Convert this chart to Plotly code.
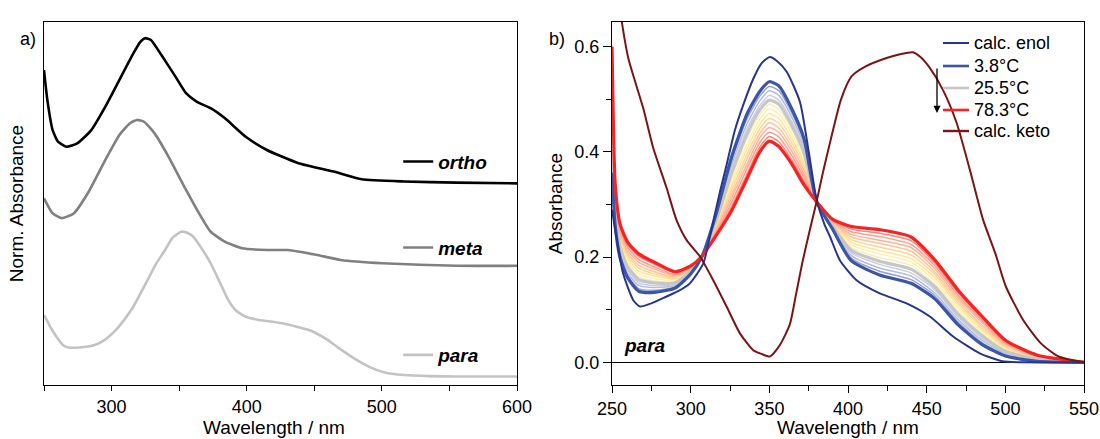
import plotly.graph_objects as go

FONT = "Liberation Sans, Arial, sans-serif"
W, H = 1100, 439

# ---------------- panel a: normalised spectra of the isomers ----------------
ortho_nm = [250, 252.5, 256.4, 260.3, 266.8, 274.6, 285, 295.4, 305.8, 316.2, 321.3, 324.7,
            329.1, 336.9, 347.3, 355.1, 362.9, 373.3, 383.7, 399.3, 414.9, 438.3, 464.3,
            485.1, 516.3, 555.3, 600]
ortho_abs = [0.868, 0.786, 0.704, 0.673, 0.659, 0.668, 0.704, 0.768, 0.841, 0.914, 0.945, 0.955,
             0.950, 0.909, 0.850, 0.805, 0.782, 0.764, 0.737, 0.686, 0.650, 0.614, 0.591,
             0.570, 0.564, 0.561, 0.559]

meta_nm = [250, 256.4, 263, 272, 282.4, 295.4, 305.8, 313.6, 318.8, 324, 331.7, 342.1, 355.1,
           366.8, 373.3, 383.7, 396.7, 414.9, 430.4, 451.3, 469.5, 500.6, 555.3, 600]
meta_abs = [0.518, 0.477, 0.464, 0.477, 0.532, 0.623, 0.691, 0.723, 0.732, 0.727, 0.696, 0.632,
            0.541, 0.464, 0.427, 0.400, 0.382, 0.377, 0.377, 0.364, 0.350, 0.341, 0.334, 0.334]

para_nm = [250, 255, 259.1, 264, 268.1, 278, 287.6, 295, 303.2, 310, 316.2, 326.6, 333, 339.6,
           345, 351.4, 356, 360.3, 366, 373.3, 380, 386.3, 392, 399.3, 408, 417.5, 428, 437,
           445, 451.3, 459, 466.9, 478, 490.3, 502, 516.3, 535, 555.3, 600]
para_abs = [0.200, 0.165, 0.141, 0.118, 0.111, 0.112, 0.118, 0.132, 0.159, 0.190, 0.223, 0.295,
            0.340, 0.377, 0.410, 0.427, 0.424, 0.414, 0.385, 0.341, 0.290, 0.241, 0.212, 0.195,
            0.187, 0.182, 0.176, 0.168, 0.160, 0.150, 0.134, 0.113, 0.085, 0.059, 0.043, 0.036,
            0.033, 0.032, 0.032]

# ---------------- panel b: para isomer, temperature series ----------------
temp_nm = [250, 252, 255, 260, 267, 277, 290, 300, 307, 316, 326, 336, 344, 350,
           356, 364, 372, 380, 390, 402, 420, 440, 455, 470, 485, 500, 520, 550]

# one row per measured temperature, coldest first
temp_abs = [
    [0.360, 0.260, 0.200, 0.160, 0.135, 0.133, 0.141, 0.168, 0.200, 0.280, 0.390, 0.473, 0.515, 0.533,
     0.525, 0.483, 0.425, 0.305, 0.254, 0.193, 0.166, 0.150, 0.121, 0.071, 0.034, 0.012, 0.002, 0.0],
    [0.378, 0.266, 0.205, 0.165, 0.140, 0.137, 0.143, 0.169, 0.200, 0.277, 0.382, 0.464, 0.506, 0.524,
     0.516, 0.475, 0.418, 0.305, 0.255, 0.198, 0.173, 0.157, 0.127, 0.076, 0.038, 0.014, 0.003, 0.0],
    [0.397, 0.272, 0.210, 0.170, 0.146, 0.142, 0.146, 0.170, 0.200, 0.274, 0.374, 0.454, 0.497, 0.516,
     0.507, 0.467, 0.411, 0.305, 0.257, 0.203, 0.179, 0.164, 0.132, 0.081, 0.042, 0.017, 0.004, 0.0],
    [0.415, 0.278, 0.215, 0.176, 0.151, 0.146, 0.148, 0.171, 0.200, 0.271, 0.366, 0.445, 0.488, 0.507,
     0.498, 0.459, 0.405, 0.305, 0.258, 0.208, 0.186, 0.170, 0.138, 0.086, 0.046, 0.019, 0.005, 0.0],
    [0.434, 0.285, 0.220, 0.181, 0.157, 0.151, 0.151, 0.173, 0.200, 0.268, 0.359, 0.435, 0.480, 0.498,
     0.490, 0.451, 0.398, 0.305, 0.260, 0.213, 0.192, 0.177, 0.144, 0.091, 0.051, 0.021, 0.006, 0.0],
    [0.452, 0.291, 0.225, 0.186, 0.162, 0.155, 0.153, 0.174, 0.200, 0.265, 0.351, 0.426, 0.471, 0.490,
     0.481, 0.443, 0.391, 0.305, 0.261, 0.218, 0.199, 0.184, 0.149, 0.096, 0.055, 0.024, 0.007, 0.0],
    [0.471, 0.297, 0.230, 0.191, 0.168, 0.159, 0.155, 0.175, 0.200, 0.262, 0.343, 0.416, 0.462, 0.481,
     0.472, 0.435, 0.384, 0.305, 0.262, 0.223, 0.206, 0.191, 0.155, 0.101, 0.059, 0.026, 0.008, 0.0],
    [0.489, 0.303, 0.234, 0.197, 0.173, 0.164, 0.158, 0.176, 0.201, 0.258, 0.335, 0.407, 0.453, 0.472,
     0.463, 0.426, 0.378, 0.305, 0.264, 0.228, 0.212, 0.197, 0.161, 0.107, 0.063, 0.028, 0.008, 0.0],
    [0.508, 0.309, 0.239, 0.202, 0.179, 0.168, 0.160, 0.177, 0.201, 0.255, 0.327, 0.397, 0.444, 0.463,
     0.454, 0.418, 0.371, 0.305, 0.265, 0.233, 0.219, 0.204, 0.167, 0.112, 0.067, 0.030, 0.009, 0.0],
    [0.526, 0.315, 0.244, 0.207, 0.184, 0.172, 0.162, 0.178, 0.201, 0.252, 0.319, 0.388, 0.435, 0.455,
     0.445, 0.410, 0.364, 0.305, 0.266, 0.238, 0.226, 0.211, 0.172, 0.117, 0.071, 0.033, 0.010, 0.0],
    [0.545, 0.322, 0.249, 0.212, 0.190, 0.177, 0.165, 0.180, 0.201, 0.249, 0.312, 0.378, 0.427, 0.446,
     0.437, 0.402, 0.357, 0.305, 0.268, 0.243, 0.232, 0.218, 0.178, 0.122, 0.076, 0.035, 0.011, 0.0],
    [0.563, 0.328, 0.254, 0.218, 0.195, 0.181, 0.167, 0.181, 0.201, 0.246, 0.304, 0.369, 0.418, 0.437,
     0.428, 0.394, 0.351, 0.305, 0.269, 0.248, 0.239, 0.224, 0.184, 0.127, 0.080, 0.037, 0.012, 0.0],
    [0.582, 0.334, 0.259, 0.223, 0.201, 0.186, 0.170, 0.182, 0.201, 0.243, 0.296, 0.359, 0.409, 0.429,
     0.419, 0.386, 0.344, 0.305, 0.271, 0.253, 0.245, 0.231, 0.189, 0.132, 0.084, 0.040, 0.013, 0.0],
    [0.600, 0.340, 0.264, 0.228, 0.206, 0.190, 0.172, 0.183, 0.201, 0.240, 0.288, 0.350, 0.400, 0.420,
     0.410, 0.378, 0.337, 0.305, 0.272, 0.258, 0.252, 0.238, 0.195, 0.137, 0.088, 0.042, 0.014, 0.0],
]
temp_colors = ["#3b55a9", "#97a3d5", "#b3bbe0", "#cacfe6", "#c6c6c6", "#f3efc4", "#fff1a6",
               "#ffe597", "#ffd597", "#ffc498", "#ffb295", "#ff9c8c", "#ff8377", "#f72222"]
# labelled members of the series (index into temp_abs)
temp_labels = {0: "3.8°C", 4: "25.5°C", 13: "78.3°C"}

enol_nm = [250, 253, 257, 263.5, 267.7, 275, 284.7, 292, 299.5, 308, 313, 318.6, 322.8, 328,
           333.4, 340, 345, 350.3, 355, 361, 369.4, 375, 380, 385, 388.5, 394.8, 405.4,
           420.2, 437.2, 452, 466.8, 483.8, 498, 510, 550]
enol_abs = [0.290, 0.233, 0.169, 0.118, 0.106, 0.112, 0.125, 0.135, 0.150, 0.188, 0.250, 0.324,
            0.375, 0.440, 0.489, 0.540, 0.568, 0.580, 0.572, 0.552, 0.495, 0.400, 0.309, 0.262,
            0.239, 0.194, 0.156, 0.131, 0.112, 0.087, 0.049, 0.017, 0.002, 0.0, 0.0]

keto_nm = [250, 253, 256.2, 260.3, 265, 269.8, 276.2, 284.7, 291, 297.4, 305.9, 314.3, 322.8,
           331.3, 339.7, 345, 350.3, 356.7, 363, 367, 371, 376, 380, 384, 389, 395.5, 402.2,
           411.2, 424.5, 433, 441.2, 446, 451.3, 460.2, 469.1, 478, 485.8, 493.6, 500.3, 511.4,
           522.6, 533.8, 550]
keto_abs = [0.800, 0.720, 0.647, 0.578, 0.530, 0.483, 0.407, 0.331, 0.270, 0.232, 0.201, 0.156,
            0.106, 0.055, 0.023, 0.016, 0.011, 0.033, 0.072, 0.130, 0.190, 0.255, 0.305, 0.360,
            0.423, 0.499, 0.543, 0.562, 0.578, 0.585, 0.589, 0.580, 0.562, 0.518, 0.454, 0.359,
            0.271, 0.207, 0.144, 0.080, 0.036, 0.011, 0.0]

ENOL_COLOR = "#27358f"
KETO_COLOR = "#7c1416"

fig = go.Figure()

# panel a traces, each with its own single-entry legend
for name, xs, ys, col, leg in [("ortho", ortho_nm, ortho_abs, "#000000", "legend2"),
                               ("meta", meta_nm, meta_abs, "#808080", "legend3"),
                               ("para", para_nm, para_abs, "#c3c3c3", "legend4")]:
    fig.add_trace(go.Scatter(x=xs, y=ys, mode="lines", name=name, legend=leg,
                             line=dict(color=col, width=2.6, shape="spline", smoothing=0.5),
                             xaxis="x", yaxis="y"))

# panel b: unlabelled temperatures first, labelled ones on top
order = [i for i in range(len(temp_abs)) if i not in temp_labels] + [4, 0, 13]
for i in order:
    labelled = i in temp_labels
    fig.add_trace(go.Scatter(
        x=temp_nm, y=temp_abs[i], mode="lines",
        name=temp_labels.get(i, ""), showlegend=False,
        line=dict(color=temp_colors[i], width=3.2 if labelled else 1.5,
                  shape="spline", smoothing=0.6),
        xaxis="x2", yaxis="y2"))

fig.add_trace(go.Scatter(x=enol_nm, y=enol_abs, mode="lines", name="calc. enol", showlegend=False,
                         line=dict(color=ENOL_COLOR, width=2, shape="spline", smoothing=0.6),
                         xaxis="x2", yaxis="y2"))
fig.add_trace(go.Scatter(x=keto_nm, y=keto_abs, mode="lines", name="calc. keto", showlegend=False,
                         line=dict(color=KETO_COLOR, width=2, shape="spline", smoothing=0.6),
                         xaxis="x2", yaxis="y2"))

tickfont = dict(family=FONT, size=18, color="#000000")
titlefont = dict(family=FONT, size=19, color="#000000")
legfont_a = dict(family=FONT, size=19, color="#000000", weight="bold", style="italic")

Y_DOM = [0.1223, 0.9506]
X_DOM_A = [0.040, 0.470]
X_DOM_B = [0.5564, 0.9855]
tick_common = dict(tickwidth=1.2, tickcolor="#000000")

fig.update_layout(
    width=W, height=H,
    margin=dict(l=0, r=0, t=0, b=0, autoexpand=False),
    paper_bgcolor="white", plot_bgcolor="white",
    font=dict(family=FONT, color="#000000"),
    xaxis=dict(domain=X_DOM_A, range=[250, 600], anchor="y", automargin=False,
               showline=True, linecolor="#000000", linewidth=1.3, mirror=True,
               ticks="outside", ticklen=5, tick0=0, dtick=100, tickfont=tickfont,
               minor=dict(dtick=50, ticks="outside", ticklen=5, **tick_common),
               showgrid=False, zeroline=False, **tick_common),
    yaxis=dict(domain=Y_DOM, range=[0.008, 1], anchor="x", automargin=False,
               showline=True, linecolor="#000000", linewidth=1.3, mirror=True,
               ticks="", showticklabels=False, showgrid=False, zeroline=False,
               title=dict(text="Norm. Absorbance", font=titlefont, standoff=14)),
    xaxis2=dict(domain=X_DOM_B, range=[250, 550], anchor="y2", automargin=False,
                showline=True, linecolor="#000000", linewidth=1.3, mirror=True,
                ticks="outside", ticklen=7, tick0=0, dtick=50, tickfont=tickfont,
                minor=dict(dtick=25, ticks="outside", ticklen=5, **tick_common),
                showgrid=False, zeroline=False, **tick_common),
    xaxis3=dict(domain=X_DOM_B, range=[250, 550], anchor="y2", overlaying="x2",
                automargin=False, side="top", showline=False, showticklabels=False,
                ticks="inside", ticklen=7, tick0=0, dtick=50,
                minor=dict(dtick=25, ticks="inside", ticklen=5, **tick_common),
                showgrid=False, zeroline=False, **tick_common),
    yaxis2=dict(domain=Y_DOM, range=[-0.0437, 0.647], anchor="x2", automargin=False,
                showline=True, linecolor="#000000", linewidth=1.3, mirror=True,
                ticks="outside", ticklen=8, tick0=0, dtick=0.2, tickformat=".1f",
                tickfont=tickfont,
                minor=dict(dtick=0.1, ticks="outside", ticklen=5, **tick_common),
                showgrid=False, zeroline=True, zerolinecolor="#000000", zerolinewidth=1.3,
                title=dict(text="Absorbance", font=titlefont, standoff=6),
                **tick_common),
    legend2=dict(x=0.362, y=(H - 161.7) / H, xanchor="left", yanchor="middle",
                 font=legfont_a, bgcolor="rgba(0,0,0,0)"),
    legend3=dict(x=0.362, y=(H - 247.7) / H, xanchor="left", yanchor="middle",
                 font=legfont_a, bgcolor="rgba(0,0,0,0)"),
    legend4=dict(x=0.362, y=(H - 355.0) / H, xanchor="left", yanchor="middle",
                 font=legfont_a, bgcolor="rgba(0,0,0,0)"),
)

# key for panel b: short line sample + label per row
key_rows = [("calc. enol", ENOL_COLOR, 2.0), ("3.8°C", temp_colors[0], 2.6),
            ("25.5°C", temp_colors[4], 2.6), ("78.3°C", temp_colors[13], 2.6),
            ("calc. keto", KETO_COLOR, 2.4)]
key_y = [43, 66, 88, 110, 131]
shapes = []
annotations = []
for (label, col, lw), yy in zip(key_rows, key_y):
    shapes.append(dict(type="line", xref="paper", yref="paper",
                       x0=943 / W, x1=969 / W, y0=(H - yy) / H, y1=(H - yy) / H,
                       line=dict(color=col, width=lw)))
    annotations.append(dict(text=label, x=972 / W, y=(H - yy) / H, xref="paper", yref="paper",
                            xanchor="left", yanchor="middle", showarrow=False,
                            font=dict(family=FONT, size=18, color="#000000")))

# x-axis titles sit on the bottom edge, under the tick labels
for cx in [274 / W, sum(X_DOM_B) / 2]:
    annotations.append(dict(text="Wavelength / nm", x=cx, y=0,
                            xref="paper", yref="paper", xanchor="center", yanchor="bottom",
                            showarrow=False, borderpad=0, font=titlefont))

annotations += [
    dict(text="a)", x=18 / W, y=(H - 27) / H, xref="paper", yref="paper",
         showarrow=False, font=dict(family=FONT, size=18, color="#000000")),
    dict(text="b)", x=557 / W, y=(H - 27) / H, xref="paper", yref="paper",
         showarrow=False, font=dict(family=FONT, size=18, color="#000000")),
    dict(text="<b><i>para</i></b>", x=622 / W, y=(H - 345) / H, xref="paper", yref="paper",
         xanchor="left", yanchor="middle", showarrow=False,
         font=dict(family=FONT, size=19, color="#000000")),
    # arrow showing the direction of rising temperature
    dict(text="", x=937 / W, y=(H - 113) / H, xref="paper", yref="paper",
         ax=0, ay=-46, showarrow=True, arrowhead=2, arrowsize=1.1, arrowwidth=1.3,
         arrowcolor="#000000"),
]
fig.update_layout(shapes=shapes, annotations=annotations)

fig.write_html("out.html")
